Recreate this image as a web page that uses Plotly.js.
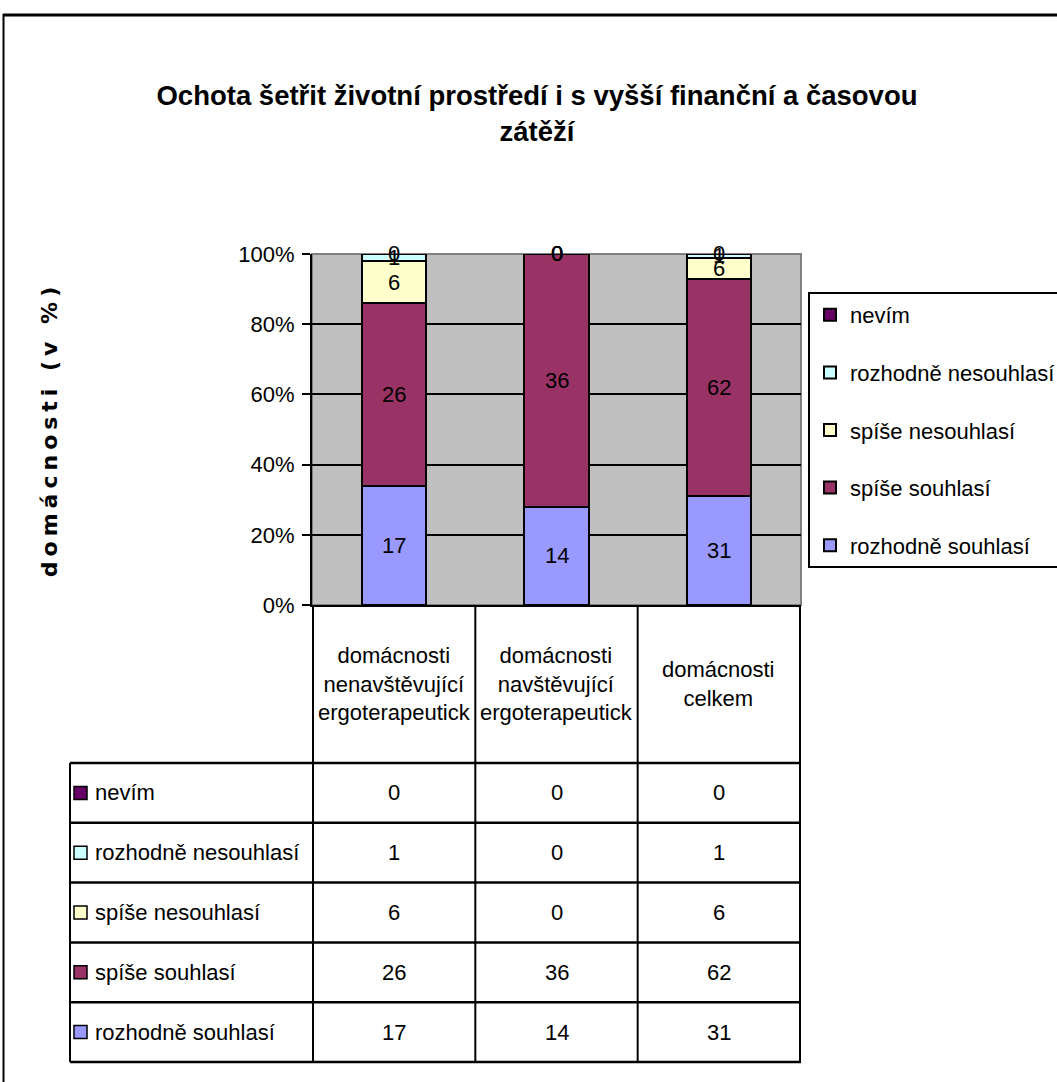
<!DOCTYPE html>
<html>
<head>
<meta charset="utf-8">
<script src="https://cdn.plot.ly/plotly-3.0.1.min.js"></script>
<style>
  body { margin: 0; padding: 0; background: #fff; }
  #chart { width: 1057px; height: 1082px; }
  .ytitle { letter-spacing: 5px; }
</style>
</head>
<body>
<div id="chart"></div>
<script>
// ---- data ----
const categories = [
  'domácnosti nenavštěvující ergoterapeutick',
  'domácnosti navštěvující ergoterapeutick',
  'domácnosti celkem'
];
const categoryLines = [
  ['domácnosti', 'nenavštěvující', 'ergoterapeutick'],
  ['domácnosti', 'navštěvující', 'ergoterapeutick'],
  ['domácnosti', 'celkem']
];
const seriesNames = ['rozhodně souhlasí', 'spíše souhlasí', 'spíše nesouhlasí', 'rozhodně nesouhlasí', 'nevím'];
const rozhodneSouhlasi = [17, 14, 31];
const spiseSouhlasi = [26, 36, 62];
const spiseNesouhlasi = [6, 0, 6];
const rozhodneNesouhlasi = [1, 0, 1];
const nevim = [0, 0, 0];
const yTickValues = [0, 20, 40, 60, 80, 100];
const titleText = 'Ochota šetřit životní prostředí i s vyšší finanční a časovou<br>zátěží';
const yTitleText = 'domácnosti (v %)';

// ---- styles ----
const seriesValues = [rozhodneSouhlasi, spiseSouhlasi, spiseNesouhlasi, rozhodneNesouhlasi, nevim];
const colors = ['#9999FF', '#993366', '#FFFFCC', '#CCFFFF', '#660066'];
const W = 1057, H = 1082;
const px = x => x / W;
const py = y => 1 - y / H;
const FONT = '"Liberation Sans", Arial, sans-serif';
const FS = 22;

const traces = seriesNames.map((name, i) => ({
  type: 'bar',
  name: name,
  x: categories,
  y: seriesValues[i],
  legendgroup: 'g' + i,
  legendrank: seriesNames.length - i,
  marker: { color: colors[i], line: { color: '#000', width: 2 } },
  hoverinfo: 'name+y'
}));

const shapes = [];
const annotations = [];

// outer chart border
shapes.push({ type: 'line', xref: 'paper', yref: 'paper', x0: px(3), x1: px(1060), y0: py(15), y1: py(15), line: { color: '#000', width: 3 } });
shapes.push({ type: 'line', xref: 'paper', yref: 'paper', x0: px(3.5), x1: px(3.5), y0: py(14), y1: py(1090), line: { color: '#000', width: 2 } });

// plot area border (grey)
shapes.push({ type: 'rect', xref: 'x domain', yref: 'y domain', x0: 0, x1: 1, y0: 0, y1: 1, line: { color: '#808080', width: 2 }, layer: 'below' });

// data labels inside bars (raw counts at centre of each percent segment)
categories.forEach((c, j) => {
  const total = seriesValues.reduce((s, arr) => s + arr[j], 0);
  let cum = 0;
  seriesValues.forEach((arr, i) => {
    const v = arr[j];
    annotations.push({
      xref: 'x', yref: 'y', x: c, y: (cum + v / 2) / total * 100,
      text: String(v), showarrow: false,
      font: { family: FONT, size: FS, color: '#000' }
    });
    cum += v;
  });
});

// data table
const tableTop = 605, headerBottom = 763, rowH = 59.8, tableLeft = 70;
const nRows = seriesNames.length;
const tableBottom = headerBottom + nRows * rowH;
[-0.5, 0.5, 1.5, 2.5].forEach(xv => {
  shapes.push({ type: 'line', xref: 'x', yref: 'paper', x0: xv, x1: xv, y0: py(tableTop), y1: py(tableBottom), line: { color: '#000', width: 2 } });
});
shapes.push({ type: 'line', xref: 'paper', yref: 'paper', x0: px(tableLeft), x1: px(tableLeft), y0: py(headerBottom), y1: py(tableBottom), line: { color: '#000', width: 2 } });
for (let k = 0; k <= nRows; k++) {
  const yy = headerBottom + k * rowH;
  shapes.push({ type: 'line', xref: 'paper', yref: 'paper', x0: px(tableLeft), x1: px(801), y0: py(yy), y1: py(yy), line: { color: '#000', width: 2.5 } });
}
categories.forEach((c, j) => {
  annotations.push({
    xref: 'x', yref: 'paper', x: c, y: py((tableTop + headerBottom) / 2), yanchor: 'middle',
    text: categoryLines[j].join('<br>'), showarrow: false,
    font: { family: FONT, size: FS, color: '#000' }
  });
});
for (let r = 0; r < nRows; r++) {
  const i = nRows - 1 - r;
  const yc = headerBottom + (r + 0.5) * rowH;
  shapes.push({ type: 'rect', xref: 'paper', yref: 'paper', x0: px(74), x1: px(87), y0: py(yc - 6.5), y1: py(yc + 6.5), fillcolor: colors[i], line: { color: '#000', width: 1.5 } });
  annotations.push({
    xref: 'paper', yref: 'paper', x: px(93), y: py(yc), xanchor: 'left', yanchor: 'middle',
    text: seriesNames[i], showarrow: false, font: { family: FONT, size: FS, color: '#000' }
  });
  categories.forEach((c, j) => {
    annotations.push({
      xref: 'x', yref: 'paper', x: c, y: py(yc), yanchor: 'middle',
      text: String(seriesValues[i][j]), showarrow: false,
      font: { family: FONT, size: FS, color: '#000' }
    });
  });
}

const layout = {
  width: W, height: H,
  margin: { l: 0, r: 0, t: 0, b: 0, autoexpand: false },
  paper_bgcolor: '#ffffff',
  plot_bgcolor: '#C0C0C0',
  barmode: 'stack',
  barnorm: 'percent',
  bargap: 0.604,
  font: { family: FONT, size: FS, color: '#000' },
  title: {
    text: titleText,
    font: { family: FONT, size: 27.5, weight: 700, color: '#000' },
    x: px(537), xref: 'paper', xanchor: 'center',
    y: py(105), yref: 'container', yanchor: 'middle'
  },
  xaxis: {
    domain: [px(312), px(801)],
    showticklabels: false, ticks: '',
    showline: true, linecolor: '#000', linewidth: 2,
    showgrid: false, zeroline: false, automargin: false, fixedrange: true
  },
  yaxis: {
    domain: [py(605), py(254)],
    range: [0, 100],
    tickvals: yTickValues,
    ticktext: yTickValues.map(v => v + '%'),
    ticks: 'outside', ticklen: 8, tickwidth: 2, tickcolor: '#000',
    ticklabelstandoff: 3,
    tickfont: { family: FONT, size: FS, color: '#000' },
    showline: true, linecolor: '#000', linewidth: 2,
    showgrid: true, gridcolor: '#000', gridwidth: 2,
    zeroline: false, automargin: false, fixedrange: true,
    title: { text: yTitleText, font: { family: '"DejaVu Sans", Verdana, sans-serif', size: 22, weight: 700, color: '#000' }, standoff: 175 }
  },
  showlegend: true,
  legend: {
    x: px(808), xanchor: 'left', xref: 'paper',
    y: py(292), yanchor: 'top', yref: 'paper',
    bordercolor: '#000', borderwidth: 2, bgcolor: '#fff',
    traceorder: 'grouped', tracegroupgap: 26,
    font: { family: FONT, size: FS, color: '#000' }
  },
  shapes: shapes,
  annotations: annotations
};

Plotly.newPlot('chart', traces, layout, { displayModeBar: false, staticPlot: true });
</script>
</body>
</html>
